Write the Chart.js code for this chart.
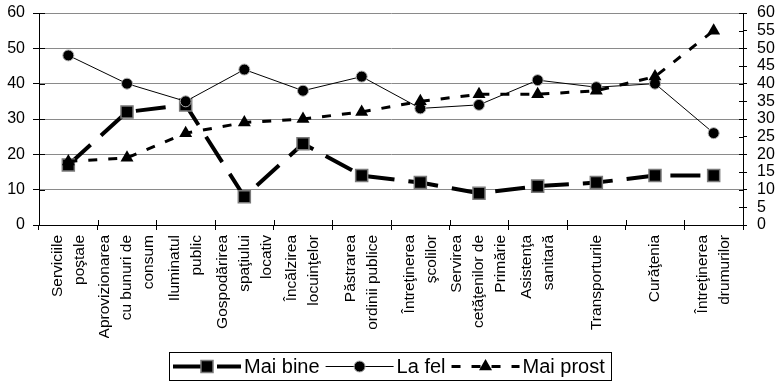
<!DOCTYPE html>
<html><head><meta charset="utf-8">
<script src="https://cdn.jsdelivr.net/npm/chart.js@4/dist/chart.umd.min.js"></script>
<style>html,body{margin:0;padding:0;background:#fff;}#wrap{width:780px;height:383px;}</style>
</head><body><div id="wrap"><canvas id="c" width="780" height="383"></canvas></div>
<script>
// ---- data ----
const categories = [
  ['Serviciile','poştale'],
  ['Aprovizionarea','cu bunuri de','consum'],
  ['Iluminatul','public'],
  ['Gospodărirea','spaţiului','locativ'],
  ['Încălzirea','locuinţelor'],
  ['Păstrarea','ordinii publice'],
  ['Întreţinerea','şcolilor'],
  ['Servirea','cetăţenilor de','Primărie'],
  ['Asistenţa','sanitară'],
  ['Transporturile'],
  ['Curăţenia'],
  ['Întreţinerea','drumurilor']
];
const seriesNames = ['Mai bine', 'La fel', 'Mai prost'];
const maiBine  = [17, 32, 34, 8, 23, 14, 12, 9, 11, 12, 14, 14];
const laFel    = [48, 40, 35, 44, 38, 42, 33, 34, 41, 39, 40, 26];
const maiProst = [18, 19, 26, 29, 30, 32, 35, 37, 37, 38, 42, 55];
const leftAxis  = {min: 0, max: 60, step: 10};
const rightAxis = {min: 0, max: 60, step: 5};

// interleave blank half-lines so every multi-line label is centred on its tick
function padLabel(lines) {
  const out = [];
  for (let i = 0; i < 3 - lines.length; i++) out.push('');
  lines.forEach((l, i) => { if (i > 0) out.push(''); out.push(l); });
  return out;
}
const HALF_LINE = 11;

const FONT = '"Liberation Sans", Arial, sans-serif';
Chart.defaults.font.family = FONT;
Chart.defaults.color = '#000';

function fixBox(size) {
  return function (scale) {
    scale.paddingLeft = 0; scale.paddingRight = 0;
    scale.paddingTop = 0; scale.paddingBottom = 0;
    if (scale.isHorizontal()) scale.height = size; else scale.width = size;
  };
}

// short tick marks on the inner side of each axis (the reference uses crossing ticks)
const innerTicks = {
  id: 'innerTicks',
  afterDatasetsDraw(chart) {
    const ctx = chart.ctx, a = chart.chartArea;
    ctx.save();
    ctx.strokeStyle = '#000'; ctx.lineWidth = 1;
    ctx.beginPath();
    const xs = chart.scales.x;
    for (let i = 0; i <= xs.ticks.length; i++) {
      const px = Math.round(xs.getPixelForValue(i - 0.5)) + 0.5;
      ctx.moveTo(px, a.bottom); ctx.lineTo(px, a.bottom - 5);
    }
    const yl = chart.scales.y;
    yl.ticks.forEach(t => {
      const py = Math.round(yl.getPixelForValue(t.value)) + 0.5;
      ctx.moveTo(a.left, py); ctx.lineTo(a.left + 6, py);
    });
    const yr = chart.scales.y2;
    yr.ticks.forEach(t => {
      const py = Math.round(yr.getPixelForValue(t.value)) + 0.5;
      ctx.moveTo(a.right, py); ctx.lineTo(a.right - 4, py);
    });
    ctx.stroke();
    ctx.restore();
  }
};

const boxLegend = {
  id: 'boxLegend',
  afterDraw(chart) {
    const ctx = chart.ctx;
    ctx.save();
    ctx.font = '20px ' + FONT;
    const sampleW = 68, gapS = 3, gapT = 6, padL = 4, padR = 6, boxH = 28;
    const items = chart.data.datasets.map(ds => ({ds, tw: ctx.measureText(ds.label).width}));
    let total = padL + padR;
    items.forEach((it, i) => { total += sampleW + gapS + it.tw + (i < items.length - 1 ? gapT : 0); });
    const bottom = chart.height - 3;
    const top = bottom - boxH;
    const left = Math.round((chart.width - total) / 2);
    ctx.strokeStyle = '#000'; ctx.lineWidth = 1;
    ctx.strokeRect(left + 0.5, top + 0.5, Math.round(total), boxH);
    const cy = top + boxH / 2 + 0.5;
    let x = left + padL;
    items.forEach(it => {
      const ds = it.ds;
      ctx.save();
      ctx.strokeStyle = ds.borderColor; ctx.lineWidth = ds.borderWidth;
      ctx.setLineDash(ds.borderDash || []);
      ctx.beginPath(); ctx.moveTo(x, cy); ctx.lineTo(x + sampleW, cy); ctx.stroke();
      ctx.restore();
      ctx.save();
      ctx.fillStyle = ds.pointBackgroundColor; ctx.strokeStyle = ds.pointBorderColor;
      ctx.lineWidth = ds.pointBorderWidth;
      Chart.helpers.drawPoint(ctx, {pointStyle: ds.pointStyle, radius: ds.pointRadius, borderWidth: ds.pointBorderWidth, rotation: 0}, x + sampleW / 2, cy);
      ctx.restore();
      x += sampleW + gapS;
      ctx.fillStyle = '#000'; ctx.textBaseline = 'middle'; ctx.textAlign = 'left';
      ctx.fillText(ds.label, x, cy + 1);
      x += it.tw + gapT;
    });
    ctx.restore();
  }
};

new Chart(document.getElementById('c'), {
  type: 'line',
  data: {
    labels: categories.map(padLabel),
    datasets: [
      {
        label: seriesNames[0], data: maiBine, yAxisID: 'y', order: 3,
        borderColor: '#000', borderWidth: 4, borderDash: [30, 14], borderCapStyle: 'butt',
        pointStyle: 'rect', pointRadius: 8.5, pointHoverRadius: 8.5,
        pointBackgroundColor: '#000', pointBorderColor: '#7a7a7a', pointBorderWidth: 1.5,
        tension: 0, fill: false
      },
      {
        label: seriesNames[1], data: laFel, yAxisID: 'y', order: 2,
        borderColor: '#000', borderWidth: 1,
        pointStyle: 'circle', pointRadius: 5.5, pointHoverRadius: 5.5,
        pointBackgroundColor: '#000', pointBorderColor: '#b0b0b0', pointBorderWidth: 1,
        tension: 0, fill: false
      },
      {
        label: seriesNames[2], data: maiProst, yAxisID: 'y2', order: 1,
        borderColor: '#000', borderWidth: 3, borderDash: [9, 11], borderCapStyle: 'butt',
        pointStyle: 'triangle', pointRadius: 7.5, pointHoverRadius: 7.5,
        pointBackgroundColor: '#000', pointBorderColor: '#000', pointBorderWidth: 0,
        tension: 0, fill: false
      }
    ]
  },
  options: {
    responsive: false, animation: false, devicePixelRatio: 1,
    layout: {padding: {left: 7, right: 5, top: 13, bottom: 45}},
    plugins: {legend: {display: false}, tooltip: {enabled: false}},
    scales: {
      x: {
        offset: true,
        afterFit: fixBox(113),
        grid: {display: true, offset: true, drawOnChartArea: false, tickLength: 5, tickColor: '#000', color: '#000'},
        border: {display: true, color: '#000', width: 1},
        ticks: {
          autoSkip: false, maxRotation: 90, minRotation: 90, padding: 5,
          labelOffset: -2 * HALF_LINE,
          font: {size: 15.5, lineHeight: HALF_LINE + 'px'}, color: '#000'
        }
      },
      y: {
        position: 'left', min: leftAxis.min, max: leftAxis.max,
        afterFit: fixBox(32),
        grid: {color: '#8a8a8a', lineWidth: 1, tickLength: 6, tickColor: '#000'},
        border: {display: true, color: '#000', width: 1},
        ticks: {stepSize: leftAxis.step, padding: 8, autoSkip: false, font: {size: 16, lineHeight: 1}, color: '#000'}
      },
      y2: {
        position: 'right', min: rightAxis.min, max: rightAxis.max,
        afterFit: fixBox(32),
        grid: {drawOnChartArea: false, tickLength: 4, tickColor: '#000'},
        border: {display: true, color: '#000', width: 1},
        ticks: {stepSize: rightAxis.step, padding: 10, autoSkip: false, font: {size: 16, lineHeight: 1}, color: '#000'}
      }
    }
  },
  plugins: [innerTicks, boxLegend]
});
</script>
</body></html>
